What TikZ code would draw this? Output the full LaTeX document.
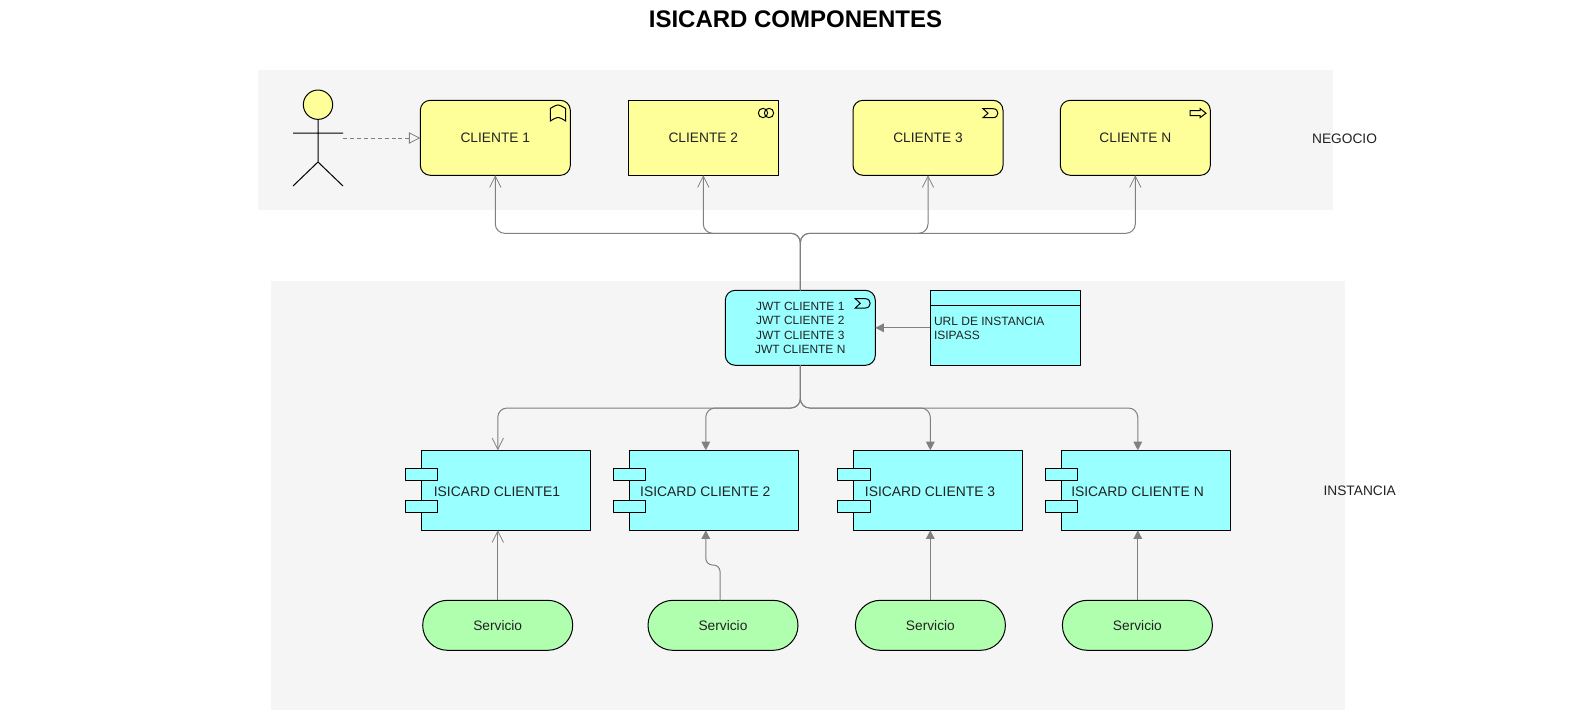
\documentclass[tikz,border=0pt]{standalone}
\usepackage{fontspec}
\setmainfont{Liberation Sans}
\usetikzlibrary{arrows.meta}
\definecolor{band}{HTML}{F5F5F5}
\definecolor{yel}{HTML}{FFFF99}
\definecolor{cya}{HTML}{99FFFF}
\definecolor{grn}{HTML}{AFFFAF}
\definecolor{wire}{HTML}{808080}
\definecolor{txt}{HTML}{222222}
\newcommand{\fsz}[1]{\fontsize{#1}{#1}\selectfont}
\tikzset{
  x=0.75pt,y=-0.75pt,
  every node/.style={text=txt,inner sep=0pt,outer sep=0pt},
  outl/.style={draw=black,line width=0.75pt,line join=round},
  busin/.style={outl,fill=yel,minimum width=112.5pt,minimum height=56.25pt,font=\fsz{10.3},text depth=0pt,text height=7.2pt},
  yelr/.style={busin,rounded corners=7.5pt},
  comp/.style={outl,fill=cya,minimum width=126.75pt,minimum height=60pt},
  port/.style={outl,fill=cya,minimum width=24.3pt,minimum height=9pt},
  serv/.style={outl,fill=grn,minimum width=112.5pt,minimum height=37.5pt,rounded corners=18.7pt,font=\fsz{10.3}},
  lab/.style={font=\fsz{10.4}},
  wirel/.style={draw=wire,line width=0.75pt,rounded corners=7pt},
  openarr/.style={wirel,-{Straight Barb[length=8.5pt,width=8.5pt,line width=0.6pt]}},
  fillarr/.style={wirel,-{Triangle[length=6.5pt,width=6.5pt]}},
  iconl/.style={draw=black,line width=0.75pt,line join=miter},
}
\begin{document}
\begin{tikzpicture}
\useasboundingbox (0,0) rectangle (1591,711);
\fill[white] (0,0) rectangle (1591,711);
\fill[band] (258,70) rectangle (1333,210);
\fill[band] (271,281) rectangle (1345,710);

\node[font=\fsz{18}\bfseries,text=black] (title) at (795.5,19.2) {ISICARD COMPONENTES};
\node[font=\fsz{10.3}] (neg) at (1344.5,138.5) {NEGOCIO};
\node[font=\fsz{10.3}] (ins) at (1359.7,490.5) {INSTANCIA};

% actor
\node[outl,fill=yel,circle,minimum size=22pt] (head) at (318,104.7) {};
\coordinate (hip) at (318,162);
\coordinate (armL) at (293,133);
\coordinate (armR) at (343,133);
\coordinate (legL) at (293,186);
\coordinate (legR) at (343,186);
\draw[outl] (head.south) -- (hip) (armL) -- (armR) (legL) -- (hip) -- (legR);
\coordinate (actorout) at (343,138);

% business row
\node[yelr] (c1) at (495.3,137.8) {CLIENTE 1};
\node[busin] (c2) at (703.3,137.8) {CLIENTE 2};
\node[yelr] (c3) at (928,137.8) {CLIENTE 3};
\node[yelr] (cn) at (1135.3,137.8) {CLIENTE N};

% jwt
\node[outl,fill=cya,rounded corners=7.5pt,minimum width=112.5pt,minimum height=56.25pt,
      font=\fontsize{8.95}{10.65}\selectfont,align=center] (jwt) at (800.3,327.8)
      {JWT CLIENTE 1\\JWT CLIENTE 2\\JWT CLIENTE 3\\JWT CLIENTE N};

% data object
\node[outl,fill=cya,minimum width=112.5pt,minimum height=56.25pt] (url) at (1005.3,327.8) {};
\draw[outl] (url.north west |- 0,305.3) -- (url.north east |- 0,305.3);
\node[anchor=north west,align=left,font=\fontsize{9}{10.5}\selectfont] (urlt) at (934,316.8)
      {URL DE INSTANCIA\\ISIPASS};

% components
\node[comp] (i1) at (505.8,490.3) {};
\node[comp] (i2) at (713.8,490.3) {};
\node[comp] (i3) at (938.3,490.3) {};
\node[comp] (i4) at (1145.8,490.3) {};
\foreach \n in {i1,i2,i3,i4}{
  \node[port] (\n p) at ([yshift=-12pt]\n.west) {};
  \node[port] (\n q) at ([yshift=12pt]\n.west) {};
}
\node[lab] (i1t) at (497,491.5) {ISICARD CLIENTE1};
\node[lab] (i2t) at (705.3,491.5) {ISICARD CLIENTE 2};
\node[lab] (i3t) at (930,491.5) {ISICARD CLIENTE 3};
\node[lab] (i4t) at (1137.5,491.5) {ISICARD CLIENTE N};

% services
\node[serv] (s1) at (497.7,625.3) {Servicio};
\node[serv] (s2) at (723,625.3) {Servicio};
\node[serv] (s3) at (930.4,625.3) {Servicio};
\node[serv] (s4) at (1137.4,625.3) {Servicio};

% connectors
\draw[draw=wire,line width=0.75pt,dash pattern=on 3pt off 2.2pt,
  -{Triangle[open,length=8.5pt,width=8.5pt,line width=0.6pt]}] (actorout) -- (actorout -| c1.west);
\coordinate (bus) at (800,233.3);
\coordinate (dbus) at (800,408);
\coordinate (jog) at (800,565);
\foreach \t in {c1,c2,c3,cn}
  \draw[openarr] (jwt.north) -- (jwt.north |- bus) -- (\t.south |- bus) -- (\t.south);
\draw[fillarr] (url.west) -- (jwt.east);
\draw[openarr] (jwt.south) -- (jwt.south |- dbus) -- ([xshift=-6pt]i1.north |- dbus) -- ([xshift=-6pt]i1.north);
\foreach \t in {i2,i3,i4}
  \draw[fillarr] (jwt.south) -- (jwt.south |- dbus) -- ([xshift=-6pt]\t.north |- dbus) -- ([xshift=-6pt]\t.north);
\draw[openarr] ([xshift=-6pt]i1.south |- s1.north) -- ([xshift=-6pt]i1.south);
\draw[fillarr,rounded corners=5pt] ([xshift=-2.2pt]s2.north) -- ([xshift=-2.2pt]s2.north |- jog) -- ([xshift=-6pt]i2.south |- jog) -- ([xshift=-6pt]i2.south);
\draw[fillarr] ([xshift=-6pt]i3.south |- s3.north) -- ([xshift=-6pt]i3.south);
\draw[fillarr] ([xshift=-6pt]i4.south |- s4.north) -- ([xshift=-6pt]i4.south);

% icons
\draw[iconl] (550.3,108.5) .. controls (554,106) and (557,105) .. (558,105) .. controls (559,105) and (562,106) .. (565.7,108.5) -- (565.7,121) .. controls (562,118.5) and (559,117.5) .. (558,117.5) .. controls (557,117.5) and (554,118.5) .. (550.3,121) -- cycle;
\draw[iconl] (763,113) circle[radius=3.5pt];
\draw[iconl] (769,113) circle[radius=3.5pt];
\draw[iconl] (983,108.7) -- (993,108.7) .. controls (999.5,108.7) and (999.5,117.7) .. (993,117.7) -- (983,117.7) -- (988,113.2) -- cycle;
\draw[iconl] (1190,110.7) -- (1200,110.7) -- (1200,108.5) -- (1206,113.2) -- (1200,117.7) -- (1200,115.7) -- (1190,115.7) -- cycle;
\draw[iconl] (855.3,298.7) -- (865.3,298.7) .. controls (871.8,298.7) and (871.8,308) .. (865.3,308) -- (855.3,308) -- (860.3,303.3) -- cycle;
\end{tikzpicture}
\end{document}
